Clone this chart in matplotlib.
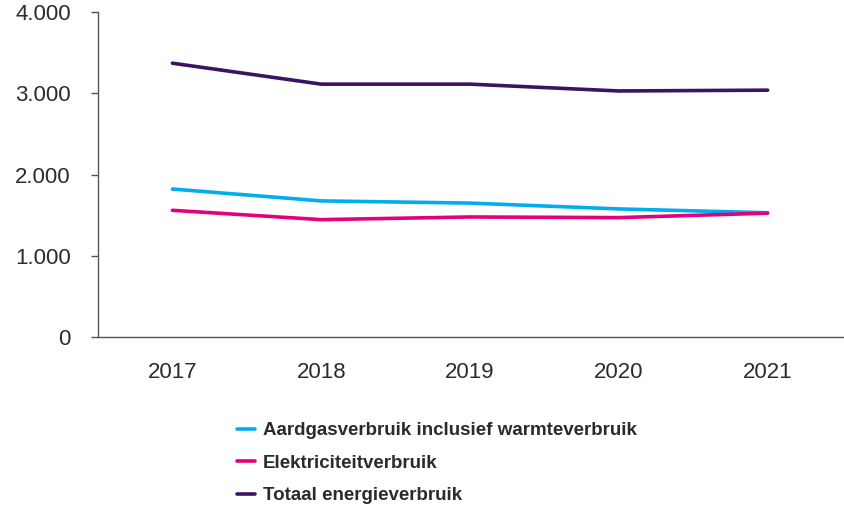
import matplotlib.pyplot as plt
from matplotlib.ticker import FuncFormatter

jaren = [2017, 2018, 2019, 2020, 2021]
aardgas = [1822, 1676, 1649, 1577, 1530]
elektriciteit = [1560, 1445, 1478, 1470, 1525]
totaal = [3372, 3114, 3114, 3030, 3040]

labels = ['Aardgasverbruik inclusief warmteverbruik',
          'Elektriciteitverbruik',
          'Totaal energieverbruik']
kleuren = ['#00AEEF', '#E4007C', '#3B1360']

plt.rcParams['font.family'] = ['Liberation Sans', 'DejaVu Sans']

fig = plt.figure(figsize=(8.45, 5.09), dpi=100)
ax = fig.add_axes([0.116, 0.338, 0.884, 0.638])

for serie, lab, kl in zip([aardgas, elektriciteit, totaal], labels, kleuren):
    ax.plot(jaren, serie, color=kl, linewidth=2.6, label=lab, solid_capstyle='round')

ax.set_ylim(0, 4000)
ax.set_xlim(2016.5, 2021.52)
ax.set_yticks([0, 1000, 2000, 3000, 4000])
ax.yaxis.set_major_formatter(FuncFormatter(lambda v, p: f'{int(v):,}'.replace(',', '.')))
ax.set_xticks(jaren)

for s in ['top', 'right']:
    ax.spines[s].set_visible(False)
for s in ['left', 'bottom']:
    ax.spines[s].set_color('#555555')
    ax.spines[s].set_linewidth(1.0)

ax.tick_params(axis='y', length=5, width=1, color='#555555', pad=14.5, labelsize=16, labelcolor='#2b2b2b')
ax.tick_params(axis='x', length=0, pad=18, labelsize=16, labelcolor='#2b2b2b')

leg = fig.legend(loc='upper left', bbox_to_anchor=(237 / 845, 1 - 422 / 509), frameon=False,
                 borderaxespad=0, borderpad=0,
                 handlelength=0.95, handletextpad=0.45, labelspacing=0.82,
                 prop={'weight': 'bold', 'size': 13.5})
for t in leg.get_texts():
    t.set_color('#2b2b2b')

fig.savefig('out.png', dpi=100)
